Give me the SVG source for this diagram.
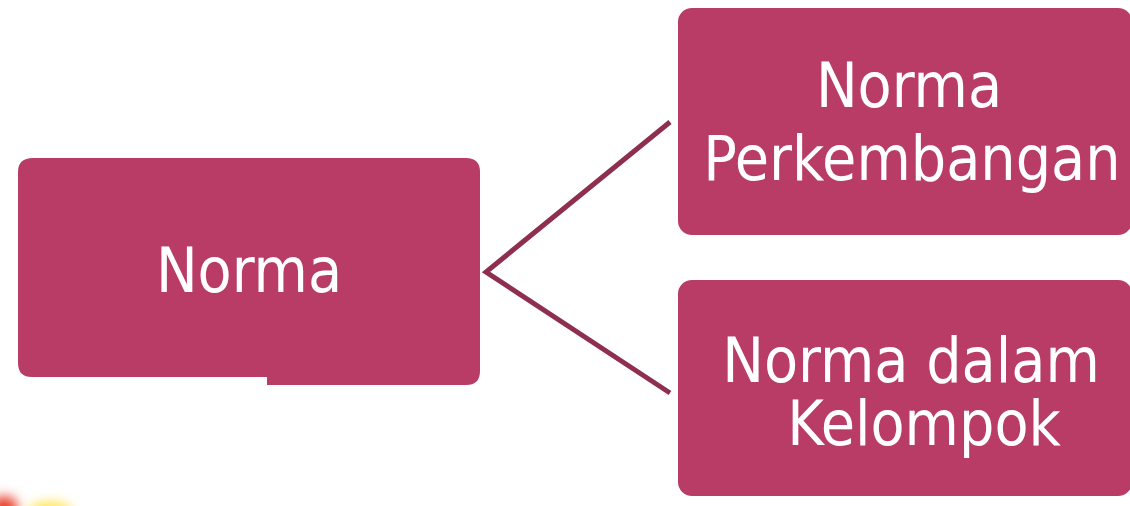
<svg xmlns="http://www.w3.org/2000/svg" width="1130" height="506" viewBox="0 0 1130 506">
  <style>
    .box { fill: #B83C65; }
    .lbl { fill: #FFFFFF; font-family: "DejaVu Sans Condensed", "DejaVu Sans", sans-serif; font-size: 62px; text-anchor: middle; }
    .conn { stroke: #8E2F50; stroke-width: 5; fill: none; stroke-linejoin: miter; }
  </style>
  <defs>
    <filter id="blur" x="-50%" y="-50%" width="200%" height="200%">
      <feGaussianBlur stdDeviation="6"/>
    </filter>
  </defs>
  <rect width="1130" height="506" fill="#FFFFFF"/>
  <g id="decoration" filter="url(#blur)">
    <ellipse cx="4" cy="508" rx="14" ry="12" fill="#E8402A"/>
    <ellipse cx="50" cy="512" rx="22" ry="10" fill="#FFE24A"/>
  </g>
  <g id="connectors">
    <polyline class="conn" points="670,122 486,272 670,393"/>
  </g>
  <g id="node-norma">
    <path class="box" d="M33,158 H466 Q480,158 480,172 V371 Q480,385 466,385 H267 V377 H32 Q18,377 18,363 V172 Q18,158 33,158 Z"/>
    <text class="lbl" x="249" y="292">Norma</text>
  </g>
  <g id="node-perkembangan">
    <rect class="box" x="678" y="8" width="454" height="227" rx="14"/>
    <text class="lbl" x="909" y="107">Norma</text>
    <text class="lbl" x="912" y="180">Perkembangan</text>
  </g>
  <g id="node-kelompok">
    <rect class="box" x="678" y="280" width="454" height="216" rx="14"/>
    <text class="lbl" x="911" y="382">Norma dalam</text>
    <text class="lbl" x="924" y="445">Kelompok</text>
  </g>
</svg>
